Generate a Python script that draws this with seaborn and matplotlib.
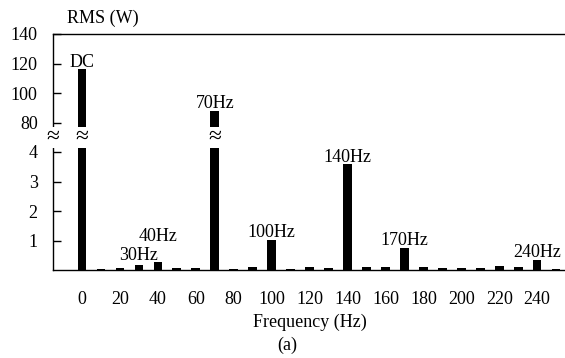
import matplotlib
matplotlib.use("Agg")
import matplotlib.pyplot as plt
import numpy as np
import seaborn as sns

# spectrum bins, 10 Hz apart
FREQS = [0, 10, 20, 30, 40, 50, 60, 70, 80, 90, 100, 110, 120,
         130, 140, 150, 160, 170, 180, 190, 200, 210, 220, 230, 240, 250]
RMS = [116, 0.03, 0.06, 0.17, 0.26, 0.07, 0.07, 88, 0.03, 0.09, 1.02, 0.03, 0.09,
       0.07, 3.58, 0.09, 0.11, 0.76, 0.09, 0.07, 0.07, 0.07, 0.14, 0.11, 0.35, 0.03]
PEAK_FREQS = [0, 30, 40, 70, 100, 140, 170, 240]
PEAK_LABELS = ["DC", "30Hz", "40Hz", "70Hz", "100Hz", "140Hz", "170Hz", "240Hz"]
Y_TICKS = [1, 2, 3, 4, 80, 100, 120, 140]
X_TICKS = [0, 20, 40, 60, 80, 100, 120, 140, 160, 180, 200, 220, 240]

LOW_TOP = 4.5     # lower panel ends here
HIGH_BOTTOM = 70  # upper panel starts here


def forward(v):
    v = np.asarray(v, dtype=float)
    return np.where(v <= LOW_TOP, v,
                    np.where(v >= HIGH_BOTTOM, 5 + (v - 80) / 20, LOW_TOP))


def inverse(p):
    p = np.asarray(p, dtype=float)
    return np.where(p <= LOW_TOP, p, 80 + (p - 5) * 20)


sns.set_theme(style="white")
plt.rcParams["font.family"] = ["Liberation Serif", "DejaVu Serif"]
plt.rcParams["text.color"] = "black"
FS = 13

fig = plt.figure(figsize=(5.65, 3.58), dpi=100)
ax = fig.add_axes([53 / 565, 1 - 270 / 358, (565 - 53) / 565, (270 - 34) / 358])

sns.barplot(x=FREQS, y=RMS, native_scale=True, width=0.46, color="black",
            saturation=1, edgecolor="none", linewidth=0, ax=ax)
ax.set_yscale("function", functions=(forward, inverse))
ax.set_ylim(0, 140)
ax.set_xlim(-15.3, 254.7)
ax.set_yticks(Y_TICKS)
ax.set_yticklabels([str(t) for t in Y_TICKS])
ax.set_xticks(X_TICKS)
ax.set_xticklabels([str(t) for t in X_TICKS])
ax.minorticks_off()
ax.tick_params(axis="y", direction="in", length=6, width=1, pad=11,
               labelsize=FS, colors="black", left=True)
ax.tick_params(axis="x", length=0, pad=15, labelsize=FS, colors="black")
ax.set_xlabel("")
ax.set_ylabel("")
ax.spines["right"].set_visible(False)
for side in ["left", "bottom", "top"]:
    ax.spines[side].set_color("black")
    ax.spines[side].set_linewidth(1)

# peak annotations (offset in points above bar top)
offsets = {"40Hz": 15, "30Hz": 3.5}
heights = dict(zip(FREQS, RMS))
for f, lab in zip(PEAK_FREQS, PEAK_LABELS):
    ax.annotate(lab, xy=(f, heights[f]), xytext=(0, offsets.get(lab, 1.8)),
                textcoords="offset points", ha="center", va="baseline",
                fontsize=FS, color="black")

# break marks on the axis and the two tall bars
brk = dict(ha="center", va="center", fontsize=17, zorder=5, color="black",
           bbox=dict(boxstyle="square,pad=0.0", fc="white", ec="none"))
ax.text(0, LOW_TOP, "≈", transform=ax.get_yaxis_transform(), clip_on=False, **brk)
for f in [0, 70]:
    ax.text(f, LOW_TOP, "≈", **brk)

fig.text(67 / 565, 1 - 18 / 358, "RMS (W)", ha="left", va="center", fontsize=FS)
fig.text(310 / 565, 1 - 322 / 358, "Frequency (Hz)", ha="center", va="center", fontsize=FS)
fig.text(287 / 565, 1 - 345 / 358, "(a)", ha="center", va="center", fontsize=FS)

fig.savefig("out.png", dpi=100)
